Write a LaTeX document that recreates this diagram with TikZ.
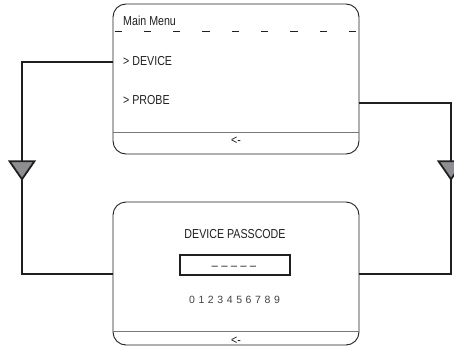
\documentclass[tikz,border=0pt]{standalone}
\usepackage{fontspec}
\setmainfont[FakeStretch=0.82]{Liberation Sans}
\newfontfamily\plainsans{Liberation Sans}
\usetikzlibrary{shapes.geometric}
\definecolor{ink}{RGB}{35,31,32}
\definecolor{arrowgray}{RGB}{140,142,146}
\definecolor{rulegray}{RGB}{120,120,120}
\tikzset{
  screen/.style={draw=ink, line width=0.9pt, rounded corners=13pt, minimum width=246pt, inner sep=0pt},
  menutext/.style={font=\fontsize{13}{15}\selectfont, text=ink, inner sep=0pt},
  sepline/.style={draw=rulegray, line width=0.8pt},
  flow/.style={draw=ink, line width=2pt},
  downtri/.style={isosceles triangle, shape border rotate=-90, isosceles triangle stretches,
    minimum width=25pt, minimum height=18pt, fill=arrowgray, draw=ink, line width=1.8pt, inner sep=0pt}
}
\begin{document}
\begin{tikzpicture}[x=1pt,y=-1pt]
\useasboundingbox (0,0) rectangle (454,353);
% main menu screen
\node[screen, minimum height=150pt] (menu) at (236,79) {};
\draw[ink, line width=0.9pt, dash pattern=on 7.3pt off 22pt, dash phase=-2pt] ([yshift=-28pt]menu.north west) -- ([yshift=-28pt]menu.north east);
\node[menutext, anchor=west] (title) at (123,21) {Main Menu};
\node[menutext, anchor=west] (dev) at (123,61) {> DEVICE};
\node[menutext, anchor=west] (probe) at (123,100) {> PROBE};
\draw[sepline] ([yshift=22pt]menu.south west) -- ([yshift=22pt]menu.south east);
\node[menutext] (back1) at (236,141) {<-};
% passcode screen
\node[screen, minimum height=143pt] (lock) at (236,273.5) {};
\node[menutext] (head) at (235,234) {DEVICE PASSCODE};
\node[draw=ink, line width=2.5pt, minimum width=110pt, minimum height=20pt, inner sep=0pt] (pass) at (235,265) {};
\node[menutext] (blank) at (234,266) {\spaceskip=3.6pt \_ \_ \_ \_ \_};
\node[menutext, font=\plainsans\fontsize{10.5}{12}\selectfont, text=ink!85] (digits) at (234.5,300) {\spaceskip=3.6pt 0 1 2 3 4 5 6 7 8 9};
\draw[sepline] ([yshift=14pt]lock.south west) -- ([yshift=14pt]lock.south east);
\node[menutext] (back2) at (236,341) {<-};
% connectors
\coordinate (devout) at (menu.west |- 0,62);
\coordinate (probeout) at (menu.east |- 0,103);
\draw[flow] (devout) -- (22,62) |- node[downtri, pos=.25] {} (lock.west);
\draw[flow] (probeout) -- (451,103) |- node[downtri, pos=.19] {} (lock.east);
\end{tikzpicture}
\end{document}
